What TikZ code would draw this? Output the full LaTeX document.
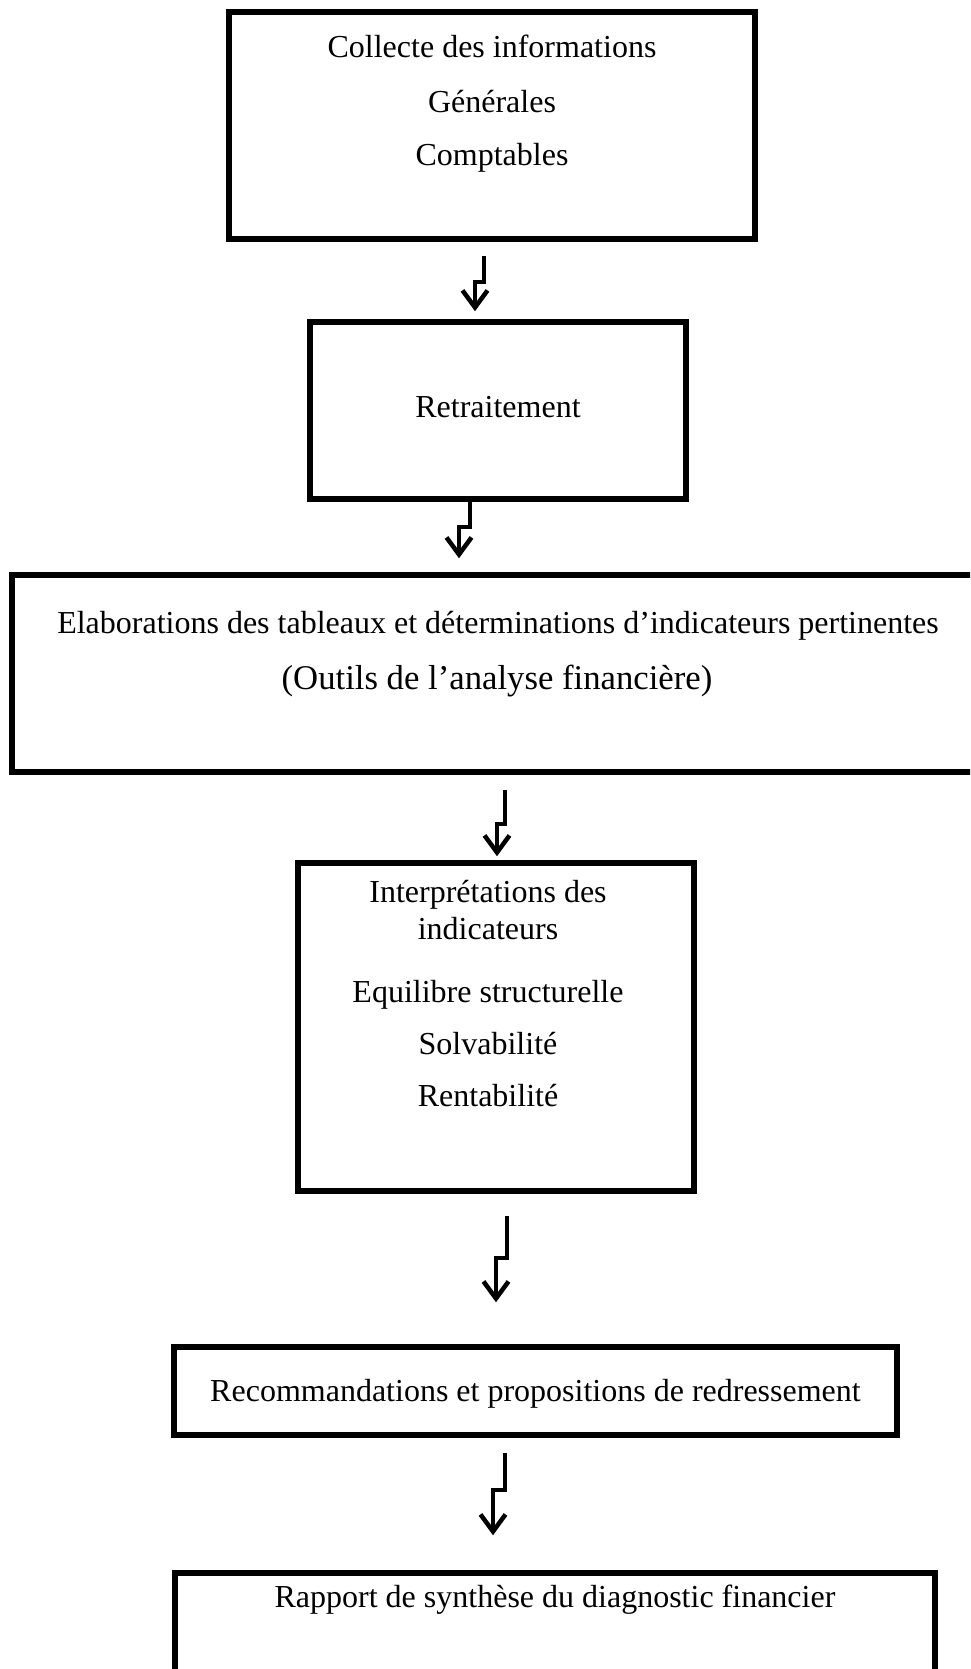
\documentclass[tikz,border=0pt]{standalone}
\usepackage{fontspec}
\setmainfont{Liberation Serif}
\usetikzlibrary{arrows.meta,calc}
\begin{document}
\begin{tikzpicture}[x=1pt,y=-1pt,
  box/.style={draw=black, line width=5.5pt, rectangle, inner sep=0pt},
  lbl/.style={anchor=base, inner sep=0pt, font=\fontsize{32}{38}\selectfont},
  flow/.style={line width=4.5pt, -{Straight Barb[length=17pt,width=25pt]}}]
\useasboundingbox (0,0) rectangle (970,1669);
\clip (0,0) rectangle (970,1669);

% boxes
\node[box, minimum width=526pt, minimum height=227pt] (b1) at (492,125.5) {};
\node[box, minimum width=376pt, minimum height=177pt] (b2) at (498,410.5) {};
\node[box, minimum width=972pt, minimum height=197pt] (b3) at (498,673.5) {};
\node[box, minimum width=396pt, minimum height=328pt] (b4) at (496,1027) {};
\node[box, minimum width=723pt, minimum height=88pt] (b5) at (535.5,1391) {};
\node[box, minimum width=760pt, minimum height=200pt] (b6) at (555,1673) {};

% texts
\node[lbl] (t1a) at (492,57.5) {Collecte des informations};
\node[lbl] (t1b) at (492,112.5) {Générales};
\node[lbl] (t1c) at (492,165.5) {Comptables};
\node[lbl] (t2) at (498,417) {Retraitement};
\node[lbl] (t3a) at (498,633) {Elaborations des tableaux et déterminations d’indicateurs pertinentes};
\node[lbl, font=\fontsize{34.7}{41}\selectfont] (t3b) at (497,689) {(Outils de l’analyse financière)};
\node[lbl] (t4a) at (488,902) {Interprétations des};
\node[lbl] (t4b) at (488,939) {indicateurs};
\node[lbl] (t4c) at (488,1002) {Equilibre structurelle};
\node[lbl] (t4d) at (488,1054) {Solvabilité};
\node[lbl] (t4e) at (488,1106) {Rentabilité};
\node[lbl] (t5) at (535.5,1401) {Recommandations et propositions de redressement};
\node[lbl] (t6) at (555,1607) {Rapport de synthèse du diagnostic financier};

% stepped arrows between the stages
\coordinate (k1a) at (484,282); \coordinate (k1b) at (475,282);
\coordinate (k2a) at (470,527); \coordinate (k2b) at (459,527);
\coordinate (k3a) at (505,824); \coordinate (k3b) at (497,824);
\coordinate (k4a) at (507,1258); \coordinate (k4b) at (496,1258);
\coordinate (k5a) at (505,1490); \coordinate (k5b) at (493,1490);

\draw[flow] ($(b1.south -| k1a)+(0,14)$) -- (k1a) -- (k1b) -- ($(b2.north -| k1b)+(0,-8)$);
\draw[flow] (b2.south -| k2a) -- (k2a) -- (k2b) -- ($(b3.north -| k2b)+(0,-14)$);
\draw[flow] ($(b3.south -| k3a)+(0,15)$) -- (k3a) -- (k3b) -- ($(b4.north -| k3b)+(0,-4)$);
\draw[flow] ($(b4.south -| k4a)+(0,22)$) -- (k4a) -- (k4b) -- ($(b5.north -| k4b)+(0,-42)$);
\draw[flow] ($(b5.south -| k5a)+(0,15)$) -- (k5a) -- (k5b) -- ($(b6.north -| k5b)+(0,-35)$);
\end{tikzpicture}
\end{document}
